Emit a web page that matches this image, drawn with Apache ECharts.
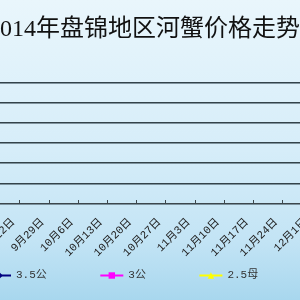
<!DOCTYPE html>
<html>
<head>
<meta charset="utf-8">
<script src="https://cdn.jsdelivr.net/npm/echarts@6/dist/echarts.min.js"></script>
<style>
html,body{margin:0;padding:0;overflow:hidden;width:300px;height:300px;}
#chart{position:absolute;left:-25px;top:0;width:350px;height:300px;}
</style>
</head>
<body>
<div id="chart"></div>
<script>
var titleText = '2014年盘锦地区河蟹价格走势';
var categories = ['9月15日','9月22日','9月29日','10月6日','10月13日','10月20日','10月27日','11月3日','11月10日','11月17日','11月24日','12月1日'];
var seriesNames = ['3.5公','3公','2.5母'];
// no data points are visible within this view of the chart
var price35gong = [null,null,null,null,null,null,null,null,null,null,null,null];
var price3gong  = [null,null,null,null,null,null,null,null,null,null,null,null];
var price25mu   = [null,null,null,null,null,null,null,null,null,null,null,null];

var chart = echarts.init(document.getElementById('chart'), null, {renderer:'canvas'});
var gridLine = {color:'#34434a', width:1.2, shadowColor:'rgba(90,110,120,0.7)', shadowOffsetY:1, shadowBlur:0};
chart.setOption({
  animation:false,
  backgroundColor:{type:'linear',x:0,y:0,x2:0,y2:1,colorStops:[
    {offset:0,color:'#e9f6fc'},{offset:0.5,color:'#d6edf9'},{offset:0.8,color:'#c3e4f5'},{offset:1,color:'#a8d7ee'}]},
  title:{text:titleText,left:13,top:18,padding:0,textStyle:{fontFamily:"'Liberation Serif','Noto Sans CJK SC'",fontSize:24,fontWeight:'normal',color:'#111'}},
  legend:{left:12,top:270,padding:0,itemGap:52.5,itemWidth:23,itemHeight:8,
    textStyle:{fontFamily:"'Liberation Mono','Noto Sans CJK SC'",fontSize:11,color:'#333'},
    data:seriesNames},
  grid:{left:15.4,right:13.4,top:82,bottom:97,containLabel:false,outerBoundsMode:'none'},
  xAxis:{type:'category',boundaryGap:false,data:categories,
    axisLine:{lineStyle:{color:'#3c474d',width:1}},
    axisTick:{inside:true,length:3,lineStyle:{color:'#3c474d'}},
    axisLabel:{rotate:45,interval:0,margin:11,padding:[0,9,0,0],fontSize:11,color:'#222',fontFamily:"'Liberation Mono','Noto Sans CJK SC'"},
    splitLine:{show:false}},
  yAxis:{type:'value',min:0,max:6,interval:1,
    axisLine:{show:false},axisTick:{show:false},axisLabel:{show:false},
    splitLine:{show:true,lineStyle:gridLine}},
  series:[
    {name:seriesNames[0],type:'line',data:price35gong,symbol:'diamond',symbolSize:6,itemStyle:{color:'#000080'},lineStyle:{color:'#000080',width:1.5}},
    {name:seriesNames[1],type:'line',data:price3gong,symbol:'rect',symbolSize:6,itemStyle:{color:'#ff00ff'},lineStyle:{color:'#ff00ff',width:1.5}},
    {name:seriesNames[2],type:'line',data:price25mu,symbol:'triangle',symbolSize:6,itemStyle:{color:'#ffff00'},lineStyle:{color:'#ffff00',width:1.5}}
  ]
});
</script>
</body>
</html>
